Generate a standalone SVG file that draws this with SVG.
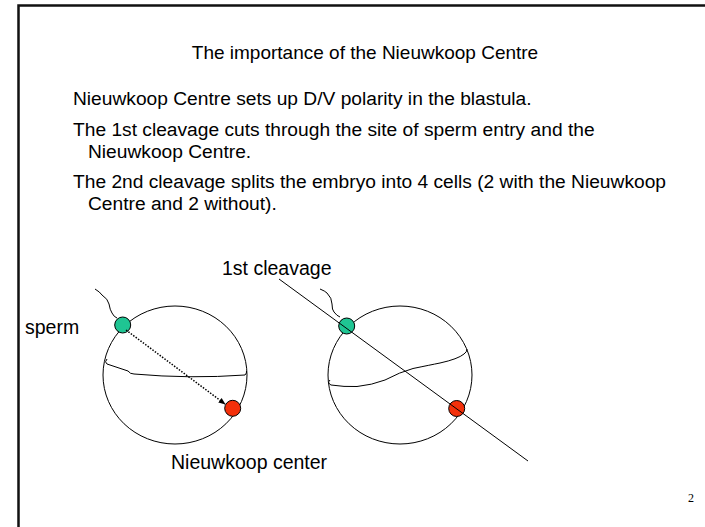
<svg xmlns="http://www.w3.org/2000/svg" width="705" height="527" viewBox="0 0 705 527">
  <style>
    .txt { font-family: "Liberation Sans", Arial, sans-serif; fill: #000; }
    .title { font-size: 19px; }
    .body { font-size: 19.2px; }
    .lbl { font-size: 19.5px; }
    .pgnum { font-family: "Liberation Serif", "Times New Roman", serif; font-size: 12px; fill: #000; }
    .frame { stroke: #111; stroke-width: 2.5; fill: none; }
    .thin { stroke: #000; stroke-width: 1; fill: none; }
    .egg { stroke: #000; stroke-width: 1; fill: #fff; }
    .sperm { fill: #1fc593; stroke: #000; stroke-width: 1; }
    .nc { fill: #f4300a; stroke: #000; stroke-width: 1; }
  </style>
  <defs>
    <marker id="arrowhead" viewBox="0 0 10 10" refX="9" refY="5" markerWidth="7" markerHeight="7" orient="auto" markerUnits="userSpaceOnUse">
      <path d="M0,1 L10,5 L0,9 Z" fill="#000"/>
    </marker>
  </defs>

  <rect width="705" height="527" fill="#fff"/>

  <!-- slide frame: left and top edges -->
  <path class="frame" d="M18.5,527 L18.5,5.5 L705,5.5"/>

  <!-- heading and bullet text -->
  <g id="heading">
    <text class="txt title" x="365" y="59" text-anchor="middle">The importance of the Nieuwkoop Centre</text>
  </g>
  <g id="bullets">
    <text class="txt body" x="73" y="105">Nieuwkoop Centre sets up D/V polarity in the blastula.</text>
    <text class="txt body" x="73" y="136">The 1st cleavage cuts through the site of sperm entry and the</text>
    <text class="txt body" x="88" y="158">Nieuwkoop Centre.</text>
    <text class="txt body" x="73" y="188">The 2nd cleavage splits the embryo into 4 cells (2 with the Nieuwkoop</text>
    <text class="txt body" x="88" y="210">Centre and 2 without).</text>
  </g>

  <!-- left embryo: sperm entry and Nieuwkoop centre -->
  <g id="embryo-left">
    <ellipse class="egg" cx="175" cy="375" rx="72" ry="69"/>
    <path class="thin" d="M107,359 Q104,362 107,364 L128,371 Q130,374 134,374 Q190,379 245,375 Q247,373 246.5,371"/>
    <path class="thin" d="M95,289 Q100,292 102,295 Q108,299 109,304 Q110,310 112,313 Q114,317 117,318"/>
  </g>
  <g id="sperm-left"><circle class="sperm" cx="122.7" cy="325" r="8"/></g>
  <g id="nc-left"><circle class="nc" cx="232.7" cy="408.3" r="8"/></g>

  <!-- right embryo: first cleavage plane -->
  <g id="embryo-right">
    <ellipse class="egg" cx="400" cy="375" rx="72" ry="69"/>
    <path class="thin" d="M330,380 Q327,383 331,385 Q344,387 357,386.5 Q372,385 385,380 Q400,372 413,368.5 Q430,365 440,363 Q458,359 464,354 Q467,352 467,349"/>
    <path class="thin" d="M320,289 Q325,291 327,293 Q332,298 332,304 Q332,310 334,312 Q337,316 340,317"/>
  </g>
  <g id="sperm-right"><circle class="sperm" cx="346.7" cy="326" r="8"/></g>
  <g id="nc-right"><circle class="nc" cx="456.7" cy="408.5" r="8"/></g>

  <g id="connectors">
    <!-- sperm path to the Nieuwkoop centre -->
    <line x1="126" y1="330" x2="225" y2="404" stroke="#000" stroke-width="1.5" stroke-dasharray="1.5,1.5" marker-end="url(#arrowhead)"/>
    <!-- first cleavage plane, drawn across both markers -->
    <line x1="279" y1="279" x2="528" y2="461" stroke="#000" stroke-width="1"/>
  </g>

  <!-- labels -->
  <g id="label-sperm"><text class="txt lbl" x="25" y="334">sperm</text></g>
  <g id="label-cleavage"><text class="txt lbl" x="222" y="275">1st cleavage</text></g>
  <g id="label-nc"><text class="txt lbl" x="171" y="469">Nieuwkoop center</text></g>

  <text class="pgnum" x="688" y="502">2</text>
</svg>
